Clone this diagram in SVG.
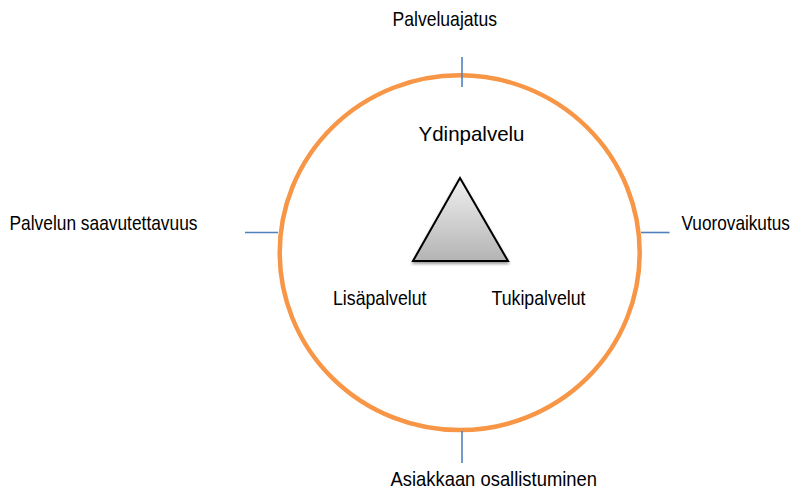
<svg xmlns="http://www.w3.org/2000/svg" width="793" height="490" viewBox="0 0 793 490">
<defs>
<linearGradient id="tri" x1="0" y1="0" x2="0" y2="1">
<stop offset="0" stop-color="#f0f0f0"/>
<stop offset="1" stop-color="#b4b4b4"/>
</linearGradient>
<filter id="sh" x="-20%" y="-20%" width="140%" height="150%">
<feGaussianBlur in="SourceAlpha" stdDeviation="1.5"/>
<feOffset dx="0" dy="2" result="b"/>
<feComponentTransfer><feFuncA type="linear" slope="0.4"/></feComponentTransfer>
<feMerge><feMergeNode/><feMergeNode in="SourceGraphic"/></feMerge>
</filter>
</defs>
<style>
text{font-family:"Liberation Sans Narrow","Liberation Sans",Arial,sans-serif;font-size:21px;fill:#000}
.tick{stroke:#4f81bd;stroke-width:1.6;fill:none}
</style>
<rect width="793" height="490" fill="#fff"/>
<g id="circle">
<ellipse cx="459.7" cy="252.7" rx="180" ry="177.4" fill="none" stroke="#f79646" stroke-width="4.5"/>
</g>
<g id="connectors">
<line class="tick" x1="462" y1="57" x2="462" y2="87"/>
<line class="tick" x1="462" y1="431" x2="462" y2="463"/>
<line class="tick" x1="245" y1="232.5" x2="278" y2="232.5"/>
<line class="tick" x1="641" y1="232.5" x2="669.5" y2="232.5"/>
</g>
<g id="triangle">
<polygon points="460,178 413,261 508,261" fill="url(#tri)" stroke="#000" stroke-width="2" stroke-linejoin="miter" filter="url(#sh)"/>
</g>
<g id="palveluajatus"><text x="392.5" y="26" textLength="104.5" lengthAdjust="spacingAndGlyphs">Palveluajatus</text></g>
<g id="ydinpalvelu"><text x="418.5" y="141" textLength="106" lengthAdjust="spacingAndGlyphs">Ydinpalvelu</text></g>
<g id="saavutettavuus"><text x="9.5" y="230" textLength="188" lengthAdjust="spacingAndGlyphs">Palvelun saavutettavuus</text></g>
<g id="vuorovaikutus"><text transform="translate(681.5,230) scale(0.82,1)" x="0" y="0">Vuorovaikutus</text></g>
<g id="lisapalvelut"><text x="333" y="305" textLength="93.5" lengthAdjust="spacingAndGlyphs">Lisäpalvelut</text></g>
<g id="tukipalvelut"><text x="491.5" y="305" textLength="94" lengthAdjust="spacingAndGlyphs">Tukipalvelut</text></g>
<g id="osallistuminen"><text x="390.5" y="486" textLength="206.5" lengthAdjust="spacingAndGlyphs">Asiakkaan osallistuminen</text></g>
</svg>
